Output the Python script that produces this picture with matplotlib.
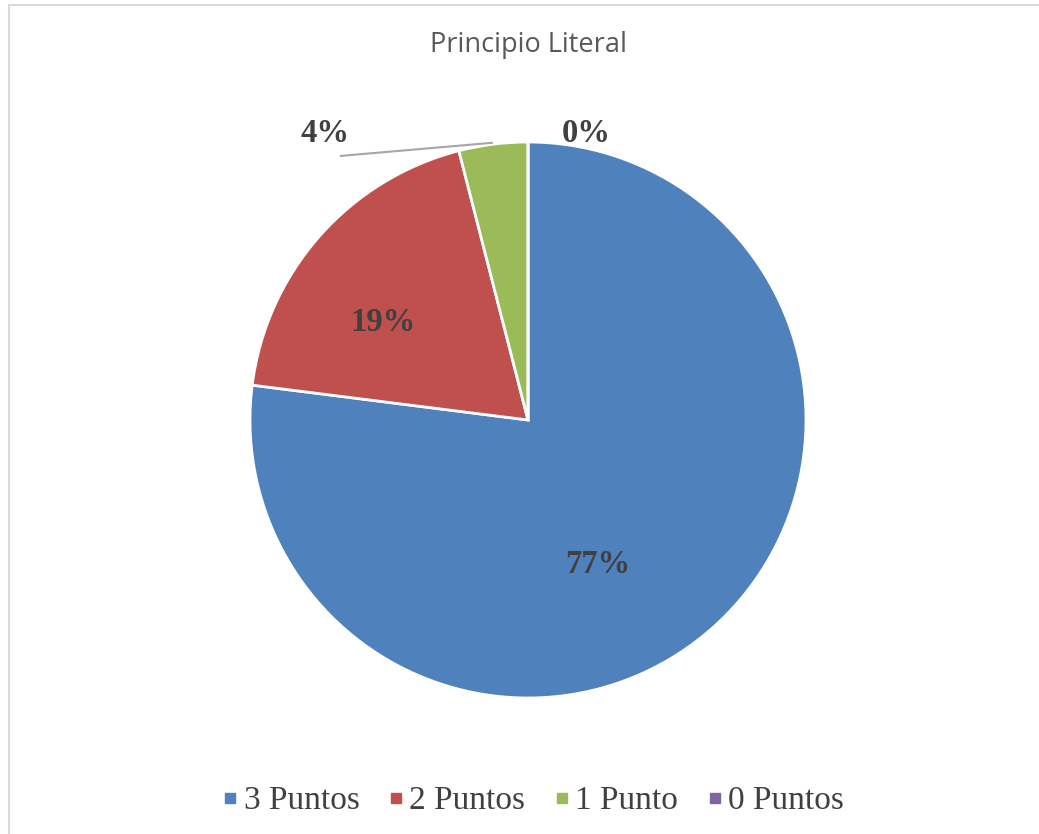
import matplotlib.pyplot as plt
from matplotlib.lines import Line2D
from matplotlib.patches import Rectangle

# datos del grafico
categorias = ['3 Puntos', '2 Puntos', '1 Punto', '0 Puntos']
porcentajes = [77, 19, 4, 0]
colores = ['#4F81BD', '#C0504D', '#9BBB59', '#8064A2']

# posicion de cada etiqueta (en unidades del radio)
pos_etiquetas = [(0.25, -0.52), (-0.52, 0.35), (-0.73, 1.03), (0.21, 1.03)]

fig = plt.figure(figsize=(10.39, 8.34), dpi=100)

# marco del area del grafico
fig.patches.append(Rectangle((9 / 1039, -0.1), 1.2, (834 - 5) / 834 + 0.1,
                             transform=fig.transFigure, fill=False,
                             edgecolor='#d9d9d9', linewidth=1.5))

cx, cy, r = 528, 420, 278
ax = fig.add_axes([(cx - r) / 1039, (834 - cy - r) / 834, 2 * r / 1039, 2 * r / 834])
ax.pie(porcentajes, colors=colores, startangle=90, counterclock=False,
       wedgeprops=dict(edgecolor='white', linewidth=2))
ax.set_xlim(-1, 1)
ax.set_ylim(-1, 1)
ax.set_aspect('equal')

for valor, (x, y) in zip(porcentajes, pos_etiquetas):
    ax.text(x, y, f'{valor}%', ha='center', va='center', fontsize=23.5,
            fontweight='bold', family='Liberation Serif', color='#404040')

# linea guia de la etiqueta del 4%
ax.plot([-0.673, -0.13], [0.95, 0.997], color='#a6a6a6', linewidth=1.5, clip_on=False)

fig.text(529 / 1039, 1 - 45 / 834, 'Principio Literal', ha='center', va='center',
         fontsize=19.5, family='Open Sans', color='#595959')

handles = [Line2D([], [], marker='s', linestyle='none', markersize=7.5,
                  markerfacecolor=c, markeredgecolor=c) for c in colores]
fig.legend(handles, categorias, loc='center', bbox_to_anchor=(533 / 1039, 1 - 801 / 834),
           ncol=4, frameon=False, handlelength=0.5, handletextpad=0.15,
           columnspacing=0.85, prop={'family': 'Liberation Serif', 'size': 24},
           labelcolor='#404040')

fig.savefig('out.png', dpi=100)
